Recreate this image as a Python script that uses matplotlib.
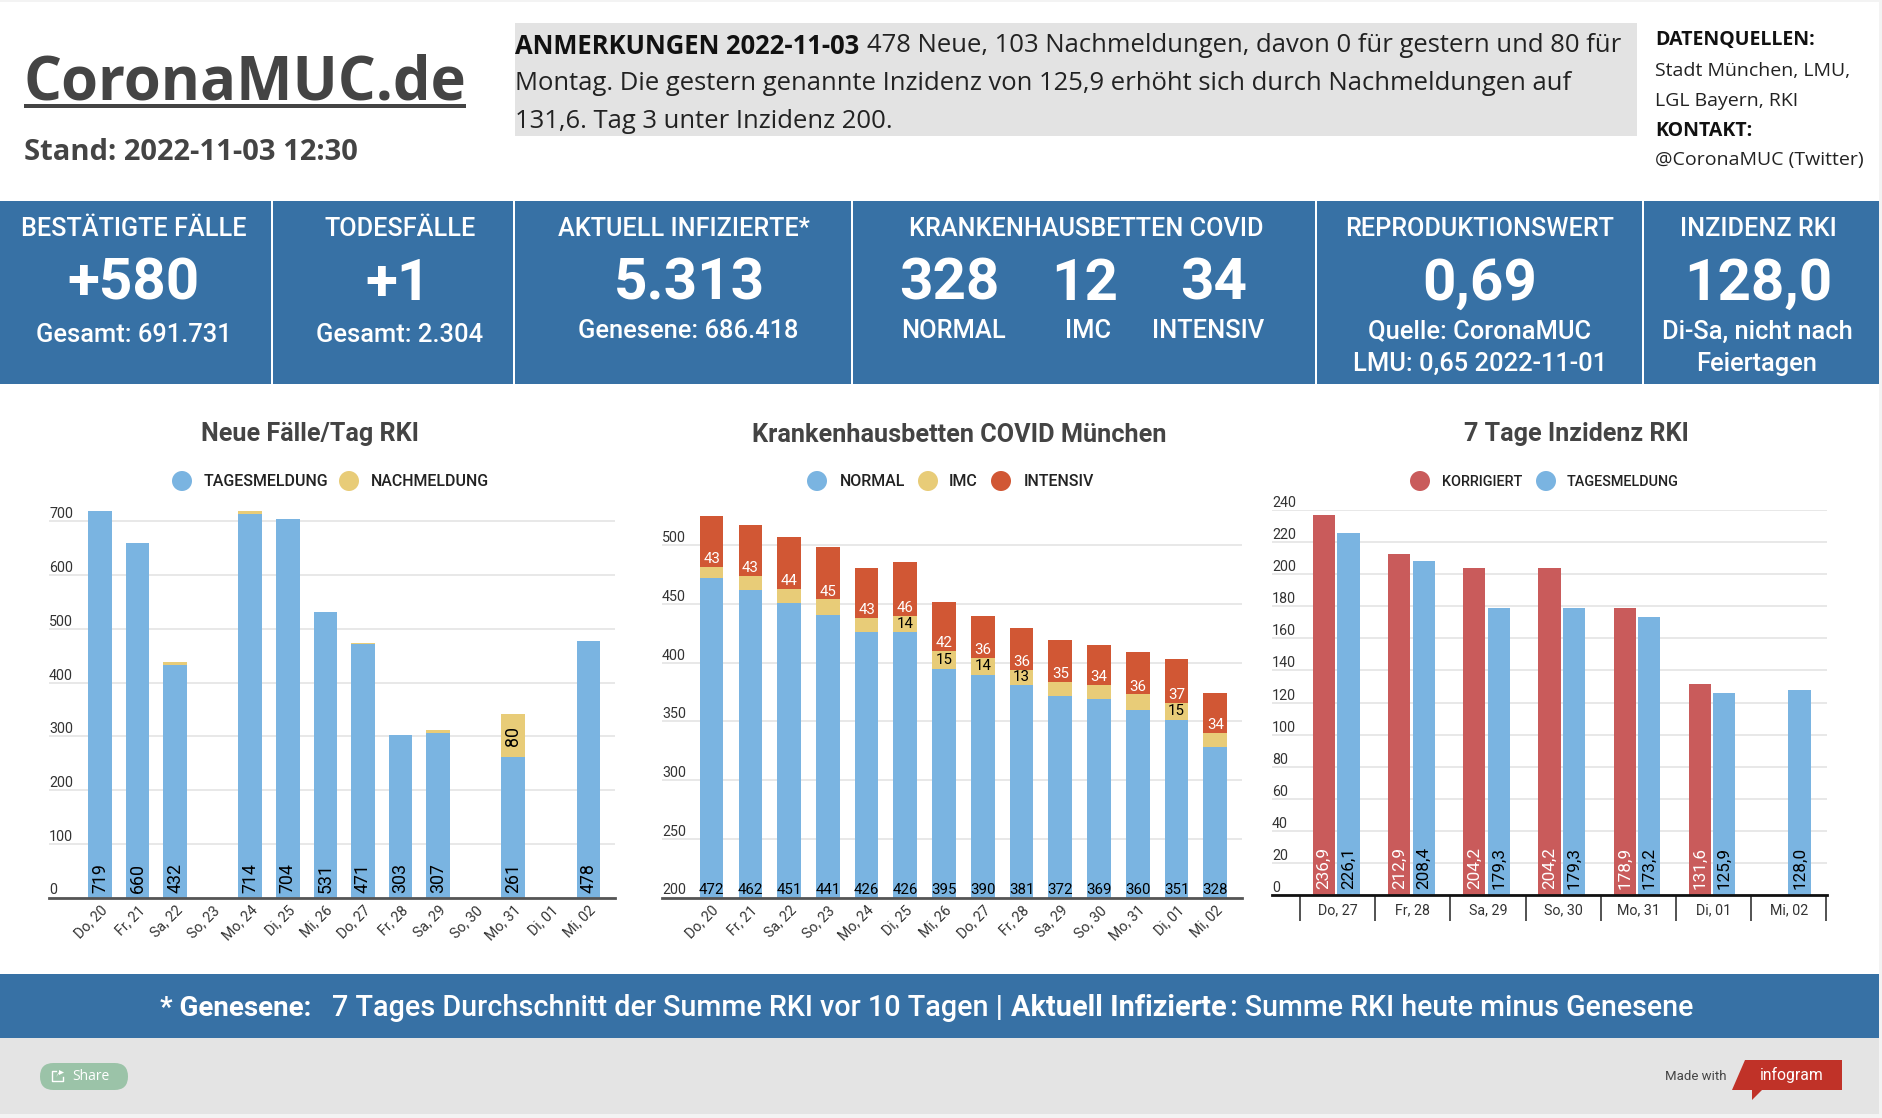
import matplotlib
matplotlib.use("Agg")
from matplotlib import pyplot as plt
from matplotlib.patches import Rectangle, Polygon, FancyBboxPatch, Circle

W, H = 1882, 1118

BLUE = "#7ab4e1"
YELLOW = "#e8cc78"
ORANGE = "#d15734"
RED = "#c95b5b"
PANEL = "#3771a5"
GRID = "#e2e2e2"
DARK = "#444444"

# chart 1
days1 = ["Do, 20", "Fr, 21", "Sa, 22", "So, 23", "Mo, 24", "Di, 25", "Mi, 26",
         "Do, 27", "Fr, 28", "Sa, 29", "So, 30", "Mo, 31", "Di, 01", "Mi, 02"]
tages = [719, 660, 432, 0, 714, 704, 531, 471, 303, 307, 0, 261, 0, 478]
nach = [0, 0, 7, 0, 5, 0, 0, 3, 0, 4, 0, 80, 0, 0]

# chart 2
normal = [472, 462, 451, 441, 426, 426, 395, 390, 381, 372, 369, 360, 351, 328]
imc = [10, 12, 12, 13, 12, 14, 15, 14, 13, 12, 12, 13, 15, 12]
intensiv = [43, 43, 44, 45, 43, 46, 42, 36, 36, 35, 34, 36, 37, 34]
imc_labeled = [False, False, False, False, False, True, True, True, True,
               False, False, False, True, False]

# chart 3
days3 = ["Do, 27", "Fr, 28", "Sa, 29", "So, 30", "Mo, 31", "Di, 01", "Mi, 02"]
korrigiert = [236.9, 212.9, 204.2, 204.2, 178.9, 131.6, None]
tagesmeldung = [226.1, 208.4, 179.3, 179.3, 173.2, 125.9, 128.0]

plt.rcParams["font.family"] = "Roboto"
fig = plt.figure(figsize=(W / 100, H / 100), dpi=100, facecolor="white")

# page layer in pixel coordinates
bg = fig.add_axes([0, 0, 1, 1], zorder=0)
bg.set_xlim(0, W)
bg.set_ylim(H, 0)
bg.axis("off")


def box(x0, y0, x1, y1, color):
    bg.add_patch(Rectangle((x0, y0), x1 - x0, y1 - y0, fc=color, ec="none"))


def txt(x, y, s, size, color="white", weight="normal", ha="center", family="Roboto", **kw):
    return bg.text(x, y + 2.5, s, fontsize=size, color=color, fontweight=weight, ha=ha,
                   va="center", family=family, **kw)


box(0, 0, W, 2, "#f3f3f3")
box(1879, 0, W, H, "#f3f3f3")
box(0, 1114, W, H, "#f3f3f3")

# header
txt(24, 81.5, "CoronaMUC.de", 43, DARK, "bold", "left", "Open Sans")
box(24, 104, 466, 108, DARK)
txt(24, 150, "Stand: 2022-11-03 12:30", 21, DARK, "bold", "left", "Open Sans")

NOTE = 18.45
box(515, 23, 1637, 136, "#e3e3e3")
txt(515, 43.5, "ANMERKUNGEN 2022-11-03", NOTE, "#111111", "bold", "left", "Open Sans")
txt(867, 43.5, "478 Neue, 103 Nachmeldungen, davon 0 für gestern und 80 für", NOTE, "#222222", ha="left", family="Open Sans")
txt(515, 81.5, "Montag. Die gestern genannte Inzidenz von 125,9 erhöht sich durch Nachmeldungen auf", NOTE, "#222222", ha="left", family="Open Sans")
txt(515, 119.5, "131,6. Tag 3 unter Inzidenz 200.", NOTE, "#222222", ha="left", family="Open Sans")

txt(1655, 38, "DATENQUELLEN:", 14, "#111111", "bold", "left", "Open Sans")
txt(1655, 69, "Stadt München, LMU,", 14, "#222222", ha="left", family="Open Sans")
txt(1655, 99, "LGL Bayern, RKI", 14, "#222222", ha="left", family="Open Sans")
txt(1655, 129, "KONTAKT:", 14, "#111111", "bold", "left", "Open Sans")
txt(1655, 158, "@CoronaMUC (Twitter)", 14, "#222222", ha="left", family="Open Sans")

# kpi band
box(0, 201, 1879, 384, PANEL)
for x in [271, 513, 851, 1315, 1642]:
    box(x, 201, x + 2.5, 384, "white")

HEAD, BIG, SUB = 18.2, 42, 18.4
txt(134, 227, "BESTÄTIGTE FÄLLE", HEAD, weight="medium")
txt(134, 282, "+580", BIG, weight="bold")
txt(134, 333, "Gesamt: 691.731", SUB, weight="medium")
txt(400, 227, "TODESFÄLLE", HEAD, weight="medium")
txt(398, 282, "+1", BIG, weight="bold")
txt(400, 333, "Gesamt: 2.304", SUB, weight="medium")
txt(684, 227, "AKTUELL INFIZIERTE*", HEAD, weight="medium")
txt(689, 282, "5.313", BIG, weight="bold")
txt(688, 329, "Genesene: 686.418", SUB, weight="medium")
txt(1086, 227, "KRANKENHAUSBETTEN COVID", HEAD, weight="medium")
txt(949, 282, "328", BIG, weight="bold")
txt(1085, 282, "12", BIG, weight="bold")
txt(1214, 282, "34", BIG, weight="bold")
txt(954, 329, "NORMAL", SUB, weight="medium")
txt(1088, 329, "IMC", SUB, weight="medium")
txt(1208, 329, "INTENSIV", SUB, weight="medium")
txt(1480, 227, "REPRODUKTIONSWERT", HEAD, weight="medium")
txt(1480, 282, "0,69", BIG, weight="bold")
txt(1480, 329, "Quelle: CoronaMUC", SUB, weight="medium")
txt(1480, 361, "LMU: 0,65 2022-11-01", SUB, weight="medium")
txt(1758, 227, "INZIDENZ RKI", HEAD, weight="medium")
txt(1758, 282, "128,0", BIG, weight="bold")
txt(1757, 329, "Di-Sa, nicht nach", SUB, weight="medium")
txt(1757, 361, "Feiertagen", SUB, weight="medium")

# bottom band
box(0, 974, 1879, 1038, PANEL)
y_note = 1005.5
txt(160, y_note, "* Genesene:", 20, weight="bold", ha="left")
txt(332, y_note, "7 Tages Durchschnitt der Summe RKI vor 10 Tagen |", 20.7, weight="medium", ha="left")
txt(1011, y_note, "Aktuell Infizierte", 20.8, weight="bold", ha="left")
txt(1230, y_note, ": Summe RKI heute minus Genesene", 20.6, weight="medium", ha="left")

box(0, 1038, 1879, 1114, "#e4e4e4")
bg.add_patch(FancyBboxPatch((40, 1063), 88, 27, boxstyle="round,pad=0,rounding_size=13.5",
                            fc="#9bc3a8", ec="none"))
bg.plot([56, 52, 52, 63, 63], [1071, 1071, 1081, 1081, 1077], color="white", lw=1)
bg.add_patch(Polygon([(56, 1077), (59, 1072), (59, 1070), (64, 1072.5), (59, 1075), (59, 1073.5)], fc="white", ec="none"))
txt(72, 1074.5, "Share", 10, "white", ha="left", family="Open Sans")
txt(1665, 1073.5, "Made with", 9.5, DARK, ha="left")
bg.add_patch(Polygon([(1745, 1060), (1842, 1060), (1842, 1090), (1762, 1090), (1752, 1100),
                      (1752, 1090), (1732, 1090)], fc="#c03228", ec="none"))
txt(1792, 1072.5, "infogram", 11.3, "white", family="Roboto")

# titles and legends
txt(310, 432, "Neue Fälle/Tag RKI", 18.1, DARK, "bold")
txt(959, 432, "Krankenhausbetten COVID München", 18.2, DARK, "bold")
txt(1576, 432, "7 Tage Inzidenz RKI", 18.1, DARK, "bold")


def legend_item(cx, tx, label, color, size=11.5):
    bg.add_patch(Circle((cx, 481), 10, fc=color, ec="none"))
    txt(tx, 479, label, size, "#222222", "medium", "left")


legend_item(182, 204, "TAGESMELDUNG", BLUE)
legend_item(349, 371, "NACHMELDUNG", YELLOW)
legend_item(817, 840, "NORMAL", BLUE)
legend_item(928, 949, "IMC", YELLOW)
legend_item(1001, 1024, "INTENSIV", ORANGE)
legend_item(1420, 1442, "KORRIGIERT", RED, 10.4)
legend_item(1546, 1567, "TAGESMELDUNG", BLUE, 10.4)


def make_axes(left, right, top, bottom, xlim, ylim, yticks, base_color):
    ax = fig.add_axes([left / W, 1 - bottom / H, (right - left) / W, (bottom - top) / H], zorder=1)
    ax.patch.set_alpha(0)
    ax.set_xlim(*xlim)
    ax.set_ylim(*ylim)
    for s in ["top", "left", "right"]:
        ax.spines[s].set_visible(False)
    ax.spines["bottom"].set_color(base_color)
    ax.spines["bottom"].set_linewidth(2)
    ax.set_yticks(yticks)
    ax.tick_params(axis="y", length=0, pad=0, labelsize=10.3, labelcolor="#333333")
    for lab in ax.get_yticklabels():
        lab.set_ha("left")
        lab.set_va("bottom")
    ax.grid(axis="y", color=GRID, lw=1.1, zorder=0)
    ax.set_axisbelow(True)
    return ax


def day_ticks(ax, days):
    ax.set_xticks(range(len(days)))
    ax.set_xticklabels(days, rotation=45, ha="right", va="top", rotation_mode="anchor",
                       fontsize=10.3, color="#333333")
    ax.tick_params(axis="x", length=0, pad=4)


def bar_label(ax, x, y, s, color="black", size=10, rot=0, dy=2, va="bottom"):
    ax.annotate(s, (x, y), xytext=(0, dy), textcoords="offset points", ha="center", va=va,
                fontsize=size, color=color, rotation=rot, zorder=5)


# Neue Faelle
x1 = list(range(len(days1)))
ax1 = make_axes(49, 615, 505.3, 897.5, (-1.36, 13.71), (0, 730), range(0, 800, 100), "#555555")
ax1.bar(x1, tages, width=0.63, color=BLUE, zorder=2)
ax1.bar(x1, nach, bottom=tages, width=0.63, color=YELLOW, zorder=2)
day_ticks(ax1, days1)
for x, t, n in zip(x1, tages, nach):
    if t:
        bar_label(ax1, x, 0, str(t), size=12.8, rot=90, dy=3.5)
    if n >= 20:
        bar_label(ax1, x, t + n / 2, str(n), size=12.8, rot=90, dy=0, va="center")

# Krankenhausbetten
ax2 = make_axes(662, 1241.6, 510.2, 897.5, (-1.28, 13.68), (200, 530), range(200, 550, 50), "#555555")
stack1 = [a + b for a, b in zip(normal, imc)]
ax2.bar(x1, [v - 200 for v in normal], bottom=200, width=0.61, color=BLUE, zorder=2)
ax2.bar(x1, imc, bottom=normal, width=0.61, color=YELLOW, zorder=2)
ax2.bar(x1, intensiv, bottom=stack1, width=0.61, color=ORANGE, zorder=2)
day_ticks(ax2, days1)
for x, n, m, i, s, show in zip(x1, normal, imc, intensiv, stack1, imc_labeled):
    bar_label(ax2, x, 200, str(n), size=10.8, dy=0.5)
    bar_label(ax2, x, s, str(i), color="white", size=10.8, dy=0.5)
    if show:
        bar_label(ax2, x, n + m / 2, str(m), size=10.8, dy=0, va="center")

# Inzidenz
ax3 = make_axes(1272, 1827, 510.4, 894.6, (-0.872, 6.51), (0, 240), range(0, 260, 20), "#111111")
for i, (k, t) in enumerate(zip(korrigiert, tagesmeldung)):
    if k is not None:
        ax3.bar(i - 0.18, k, width=0.295, color=RED, zorder=2)
        bar_label(ax3, i - 0.18, 0, f"{k:.1f}".replace(".", ","), color="white", size=12.3, rot=90, dy=4)
    ax3.bar(i + 0.145, t, width=0.295, color=BLUE, zorder=2)
    bar_label(ax3, i + 0.145, 0, f"{t:.1f}".replace(".", ","), size=12.3, rot=90, dy=4)
ax3.set_xticks([i - 0.5 for i in range(len(days3) + 1)])
ax3.set_xticklabels([])
ax3.tick_params(axis="x", which="major", length=19, width=1.3, color="#444444")
ax3.set_xticks(range(len(days3)), minor=True)
ax3.set_xticklabels(days3, minor=True, fontsize=10.3, color="#333333")
ax3.tick_params(axis="x", which="minor", length=0, pad=6)

fig.savefig("out.png", dpi=100)
